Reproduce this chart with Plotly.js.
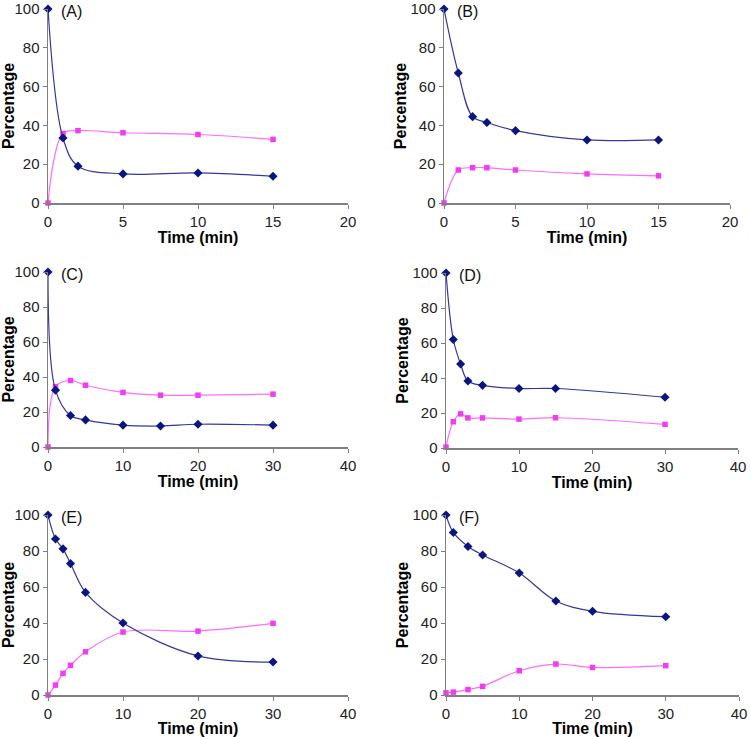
<!DOCTYPE html>
<html>
<head>
<meta charset="utf-8">
<script src="https://cdn.plot.ly/plotly-3.0.1.min.js"></script>
<style>html,body{margin:0;padding:0;background:#fff;}#chart{width:750px;height:737px;}</style>
</head>
<body>
<div id="chart"></div>
<script>
// ---- Data ----
var panelLabels = ['(A)', '(B)', '(C)', '(D)', '(E)', '(F)'];
var xMax = [20, 20, 40, 40, 40, 40];
var xTickStep = [5, 5, 10, 10, 10, 10];

var A_time = [0, 1, 2, 5, 10, 15];
var A_blue = [100, 33.5, 19, 15, 15.5, 13.8];
var A_pink = [0, 35.8, 37.3, 36.2, 35.3, 32.8];

var B_time = [0, 1, 2, 3, 5, 10, 15];
var B_blue = [100, 67, 44.5, 41.5, 37.3, 32.5, 32.5];
var B_pink = [0, 17, 18.2, 18.2, 17, 15, 14];

var C_time = [0, 1, 3, 5, 10, 15, 20, 30];
var C_blue = [100, 32.5, 18, 15.5, 12.5, 12, 13, 12.5];
var C_pink = [0, 34.5, 38, 35.3, 31.2, 29.6, 29.6, 30.2];

var D_time = [0, 1, 2, 3, 5, 10, 15, 30];
var D_blue = [100, 62, 48, 38.3, 35.8, 34, 34, 29];
var D_pink = [0.5, 15, 19.5, 17.2, 17.2, 16.5, 17.3, 13.5];

var E_time = [0, 1, 2, 3, 5, 10, 20, 30];
var E_blue = [100, 86.7, 81.2, 73, 57, 40, 21.7, 18.3];
var E_pink = [0, 5.5, 12, 16.5, 24, 35, 35.5, 39.8];

var F_time = [0, 1, 3, 5, 10, 15, 20, 30];
var F_blue = [100, 90.3, 82.5, 77.8, 67.8, 52.2, 46.5, 43.5];
var F_pink = [1.2, 1.6, 3, 4.8, 13.5, 17.2, 15.3, 16.3];

var times = [A_time, B_time, C_time, D_time, E_time, F_time];
var blues = [A_blue, B_blue, C_blue, D_blue, E_blue, F_blue];
var pinks = [A_pink, B_pink, C_pink, D_pink, E_pink, F_pink];

// ---- Layout geometry (pixels) ----
var W = 750, H = 737;
var boxes = [
  {x0: 48,  x1: 348, yTop: 9,   yBot: 203},
  {x0: 444, x1: 730, yTop: 9,   yBot: 203},
  {x0: 48,  x1: 348, yTop: 272, yBot: 447},
  {x0: 446, x1: 738, yTop: 273, yBot: 448},
  {x0: 48,  x1: 348, yTop: 515, yBot: 695},
  {x0: 446, x1: 739, yTop: 515, yBot: 695}
];

var BLUE_LINE = '#34389a', BLUE_MARK = '#0b1580';
var PINK_LINE = '#ff6cff', PINK_MARK = '#f23cf2';
var FONT = 'Liberation Sans, Arial, sans-serif';

var traces = [];
var layout = {
  width: W, height: H,
  margin: {l: 0, r: 0, t: 0, b: 0},
  paper_bgcolor: '#ffffff', plot_bgcolor: '#ffffff',
  showlegend: false,
  font: {family: FONT, size: 15, color: '#222222'},
  annotations: []
};

for (var i = 0; i < 6; i++) {
  var n = i === 0 ? '' : String(i + 1);
  var xa = 'x' + n, ya = 'y' + n;
  traces.push({
    type: 'scatter', mode: 'lines+markers', x: times[i], y: pinks[i],
    xaxis: xa, yaxis: ya, cliponaxis: false,
    line: {color: PINK_LINE, width: 1.2, shape: 'spline', smoothing: 1},
    marker: {symbol: 'square', size: 5.5, color: PINK_MARK}
  });
  traces.push({
    type: 'scatter', mode: 'lines+markers', x: times[i], y: blues[i],
    xaxis: xa, yaxis: ya, cliponaxis: false,
    line: {color: BLUE_LINE, width: 1.2, shape: 'spline', smoothing: 1},
    marker: {symbol: 'diamond', size: 7, color: BLUE_MARK}
  });
  var b = boxes[i];
  layout['xaxis' + n] = {
    domain: [b.x0 / W, b.x1 / W], anchor: ya,
    range: [0, xMax[i]], dtick: xTickStep[i], tick0: 0,
    showgrid: false, zeroline: false, showline: true,
    linecolor: '#808080', linewidth: 1.5,
    ticks: 'outside', ticklen: 4, tickcolor: '#808080', tickwidth: 1,
    tickfont: {size: 15, color: '#222222'}, ticklabeloverflow: 'allow',
    title: {text: '<b>Time (min)</b>', font: {size: 16, color: '#000000'}, standoff: 2},
    fixedrange: true
  };
  layout['yaxis' + n] = {
    domain: [1 - b.yBot / H, 1 - b.yTop / H], anchor: xa,
    range: [0, 100], dtick: 20, tick0: 0,
    showgrid: false, zeroline: false, showline: true,
    linecolor: '#808080', linewidth: 1.5,
    ticks: 'outside', ticklen: 4, tickcolor: '#808080', tickwidth: 1,
    tickfont: {size: 15, color: '#222222'}, ticklabeloverflow: 'allow',
    title: {text: '<b>Percentage</b>', font: {size: 16, color: '#000000'}, standoff: 0},
    fixedrange: true
  };
  layout.annotations.push({
    text: panelLabels[i], xref: xa + ' domain', yref: ya,
    x: 0, y: 100, xanchor: 'left', yanchor: 'middle', xshift: 11, yshift: -2,
    showarrow: false, font: {size: 16, color: '#111111'}
  });
}

Plotly.newPlot('chart', traces, layout, {staticPlot: true});
</script>
</body>
</html>
